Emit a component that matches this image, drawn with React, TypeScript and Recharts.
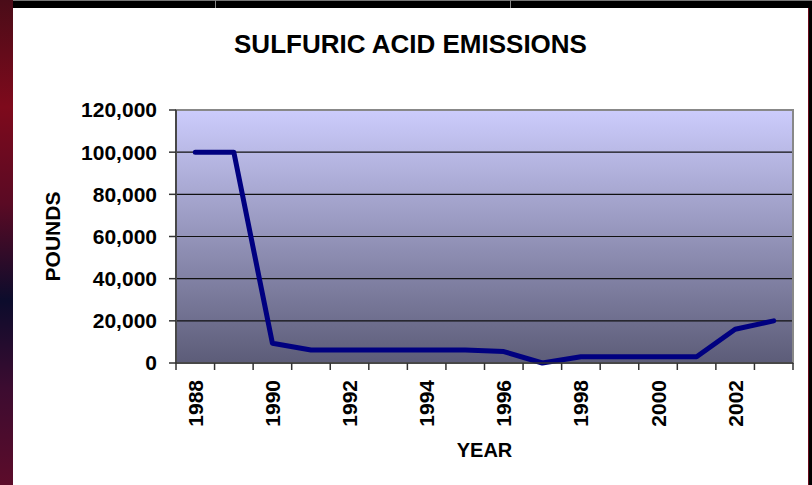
import { LineChart, Line, XAxis, YAxis, CartesianGrid, ReferenceArea, Label } from "recharts"

const YEARS = [1988, 1989, 1990, 1991, 1992, 1993, 1994, 1995, 1996, 1997, 1998, 1999, 2000, 2001, 2002, 2003]
const POUNDS = [100000, 100000, 9400, 6200, 6200, 6200, 6200, 6200, 5400, 0, 3000, 3000, 3000, 3000, 16000, 20000]
const Y_TICKS = [0, 20000, 40000, 60000, 80000, 100000, 120000]
const YEAR_LABELS = [1988, 1990, 1992, 1994, 1996, 1998, 2000, 2002]

const data = YEARS.map((year, i) => ({ year, pounds: POUNDS[i] }))
// tick marks sit between the years, like a category axis
const edges = [...YEARS.map((y) => y - 0.5), YEARS[YEARS.length - 1] + 0.5]
const xTicks = [...edges, ...YEAR_LABELS].sort((a, b) => a - b)

const font = '"Liberation Sans", Arial, sans-serif'
const axisColor = "#333"

function YearTick(props: any) {
  const { x, y, payload } = props
  if (payload.value % 1 !== 0) {
    return <line x1={x} y1={y} x2={x} y2={y + 7} stroke={axisColor} strokeWidth={1.5} />
  }
  const ty = y + 17
  return (
    <text
      x={x}
      y={ty}
      dy="0.36em"
      transform={`rotate(-90, ${x}, ${ty})`}
      textAnchor="end"
      fontFamily={font}
      fontSize={21}
      fontWeight="bold"
      fill="#000"
    >
      {payload.value}
    </text>
  )
}

function YearLabel(props: any) {
  const { x, y, width } = props.viewBox
  return (
    <text x={x + width / 2} y={y + 87} dy="0.36em" textAnchor="middle" fontFamily={font} fontSize={20} fontWeight="bold" fill="#000">
      YEAR
    </text>
  )
}

function PoundsLabel(props: any) {
  const { x, y, height } = props.viewBox
  const cx = x + 29
  const cy = y + height / 2
  return (
    <text x={cx} y={cy} dy="0.36em" transform={`rotate(-90, ${cx}, ${cy})`} textAnchor="middle" fontFamily={font} fontSize={21} fontWeight="bold" fill="#000">
      POUNDS
    </text>
  )
}

export default function App() {
  return (
    <div
      style={{
        position: "absolute",
        left: 0,
        top: 0,
        width: 812,
        height: 485,
        overflow: "hidden",
        background: "linear-gradient(180deg, #4a0c18 0%, #7e0a1c 22%, #5a0a24 42%, #0c0c2c 62%, #3c0c30 80%, #5c0c2a 100%)",
      }}
    >
      <svg width={0} height={0} style={{ position: "absolute" }}>
        <defs>
          <linearGradient id="plotBg" x1="0" y1="0" x2="0" y2="1">
            <stop offset="0%" stopColor="#ccccfc" />
            <stop offset="100%" stopColor="#5c5c78" />
          </linearGradient>
        </defs>
      </svg>
      <div style={{ position: "absolute", left: 13, top: 0, width: 799, height: 8, background: "#000", borderTop: "1px solid #777", boxSizing: "border-box" }} />
      <div style={{ position: "absolute", left: 215, top: 0, width: 1, height: 8, background: "#888" }} />
      <div style={{ position: "absolute", left: 510, top: 0, width: 1, height: 8, background: "#888" }} />
      <div style={{ position: "absolute", left: 808, top: 8, width: 4, height: 477, background: "#000", borderLeft: "1px solid #6a0a1a", boxSizing: "border-box" }} />
      <div style={{ position: "absolute", left: 13, top: 8, width: 795, height: 477, background: "#fff" }}>
        <div
          style={{
            position: "absolute",
            left: 0,
            top: 21,
            width: 795,
            textAlign: "center",
            fontFamily: font,
            fontSize: 26,
            fontWeight: "bold",
            lineHeight: "30px",
            color: "#000",
          }}
        >
          SULFURIC ACID EMISSIONS
        </div>
        <div style={{ position: "absolute", left: 0, top: 0 }}>
          <LineChart width={795} height={477} data={data} margin={{ top: 102, right: 15, left: 10, bottom: 32 }}>
            <CartesianGrid
              vertical={false}
              horizontalValues={Y_TICKS.slice(1, -1)}
              stroke="#111"
              strokeWidth={1.2}
              fill="url(#plotBg)"
              fillOpacity={1}
            />
            <ReferenceArea
              x1={edges[0]}
              x2={edges[edges.length - 1]}
              y1={Y_TICKS[0]}
              y2={Y_TICKS[Y_TICKS.length - 1]}
              fill="none"
              stroke="#888"
              strokeWidth={2}
            />
            <XAxis
              dataKey="year"
              type="number"
              domain={[edges[0], edges[edges.length - 1]]}
              ticks={xTicks}
              interval={0}
              height={90}
              tickSize={0}
              tickMargin={0}
              tickLine={false}
              axisLine={{ stroke: axisColor, strokeWidth: 1.5 }}
              tick={YearTick}
            >
              <Label content={YearLabel} />
            </XAxis>
            <YAxis
              width={153}
              domain={[Y_TICKS[0], Y_TICKS[Y_TICKS.length - 1]]}
              ticks={Y_TICKS}
              interval={0}
              tickSize={7}
              tickMargin={12}
              axisLine={{ stroke: axisColor, strokeWidth: 1.5 }}
              tickLine={{ stroke: axisColor, strokeWidth: 1.5 }}
              tick={{ fontFamily: font, fontSize: 21, fontWeight: "bold", fill: "#000" }}
              tickFormatter={(v) => Number(v).toLocaleString("en-US")}
            >
              <Label content={PoundsLabel} />
            </YAxis>
            <Line
              type="linear"
              dataKey="pounds"
              stroke="#000080"
              strokeWidth={5}
              strokeLinecap="round"
              strokeLinejoin="round"
              dot={false}
              activeDot={false}
              isAnimationActive={false}
            />
          </LineChart>
        </div>
      </div>
    </div>
  )
}
